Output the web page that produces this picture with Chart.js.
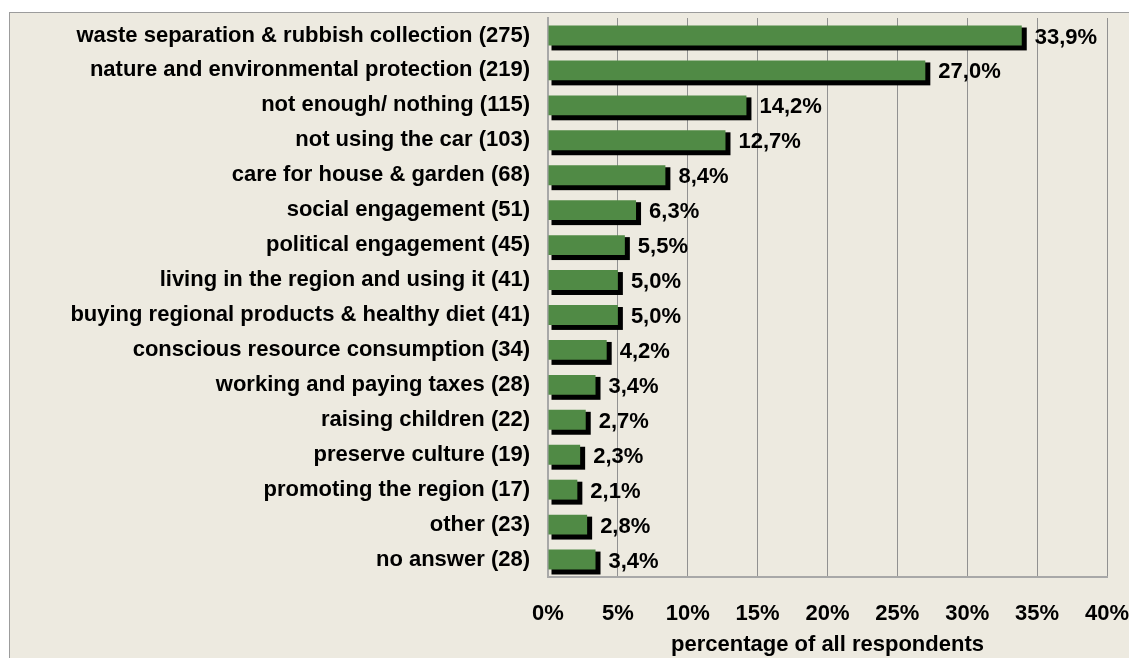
<!DOCTYPE html>
<html>
<head>
<meta charset="utf-8">
<script src="https://cdn.jsdelivr.net/npm/chart.js@4.4.1/dist/chart.umd.min.js"></script>
<style>
  html,body{margin:0;padding:0;background:#fff;}
  #frame{position:absolute;left:9px;top:12px;width:1130px;height:660px;border:1px solid #9c9c9c;background:#edeae0;}
  #wrap{position:absolute;left:0;top:0;width:1129px;height:658px;}
</style>
</head>
<body>
<div id="frame"></div>
<div id="wrap"><canvas id="c" width="1129" height="658"></canvas></div>
<script>
// categories and values (percentage of all respondents)
const categories = [
  'waste separation & rubbish collection (275)',
  'nature and environmental protection (219)',
  'not enough/ nothing (115)',
  'not using the car (103)',
  'care for house & garden (68)',
  'social engagement (51)',
  'political engagement (45)',
  'living in the region and using it (41)',
  'buying regional products & healthy diet (41)',
  'conscious resource consumption (34)',
  'working and paying taxes (28)',
  'raising children (22)',
  'preserve culture (19)',
  'promoting the region (17)',
  'other (23)',
  'no answer (28)'
];
const values = [33.9, 27.0, 14.2, 12.7, 8.4, 6.3, 5.5, 5.0, 5.0, 4.2, 3.4, 2.7, 2.3, 2.1, 2.8, 3.4];
const valueLabels = ['33,9%','27,0%','14,2%','12,7%','8,4%','6,3%','5,5%','5,0%','5,0%','4,2%','3,4%','2,7%','2,3%','2,1%','2,8%','3,4%'];
const xTicks = [0,5,10,15,20,25,30,35,40];

const FONT = '"Liberation Sans", Arial, sans-serif';

// black drop shadow behind each bar
const barShadow = {
  id:'barShadow',
  beforeDatasetsDraw(chart){
    const ctx = chart.ctx;
    ctx.save();
    ctx.fillStyle = '#000';
    chart.getDatasetMeta(0).data.forEach(b => {
      const h = b.height;
      ctx.fillRect(b.base + 3, b.y - h/2 + 2, (b.x + 5) - (b.base + 3), h + 3);
    });
    ctx.restore();
  }
};
// value labels at bar ends
const valueText = {
  id:'valueText',
  afterDatasetsDraw(chart){
    const ctx = chart.ctx;
    ctx.save();
    ctx.font = 'bold 22px ' + FONT;
    ctx.fillStyle = '#000';
    ctx.textAlign = 'left';
    ctx.textBaseline = 'middle';
    chart.getDatasetMeta(0).data.forEach((b,i) => {
      ctx.fillText(valueLabels[i], b.x + 13, b.y + 2);
    });
    ctx.restore();
  }
};

new Chart(document.getElementById('c'), {
  type:'bar',
  data:{ labels: categories, datasets:[{ data: values, backgroundColor:'#508a45', borderWidth:0, barPercentage:0.57, categoryPercentage:1 }] },
  options:{
    indexAxis:'y',
    responsive:false,
    animation:false,
    layout:{ padding:{ top:18, right:22, left:0, bottom:0 } },
    plugins:{ legend:{display:false}, tooltip:{enabled:false} },
    scales:{
      x:{
        min:0, max:40,
        afterBuildTicks: s => { s.ticks = xTicks.map(v => ({value:v})); },
        afterFit: s => { s.height = 81; s.paddingLeft = 0; s.paddingRight = 0; },
        ticks:{ callback: v => v + '%', color:'#000', font:{family:FONT, size:22, weight:'bold'}, padding:24, maxRotation:0 },
        grid:{ color:'#919191', lineWidth:1, drawTicks:false },
        border:{ color:'#a8a8a8', width:2 },
        title:{ display:true, text:'percentage of all respondents', color:'#000', font:{family:FONT, size:22, weight:'bold'}, padding:{top:2,bottom:0} }
      },
      y:{
        afterFit: s => { s.width = 548; s.paddingTop = 0; s.paddingBottom = 0; },
        ticks:{ color:'#000', font:{family:FONT, size:22, weight:'bold'}, padding:18, autoSkip:false },
        grid:{ display:false, drawTicks:false },
        border:{ color:'#a8a8a8', width:2 }
      }
    }
  },
  plugins:[barShadow, valueText]
});
</script>
</body>
</html>
